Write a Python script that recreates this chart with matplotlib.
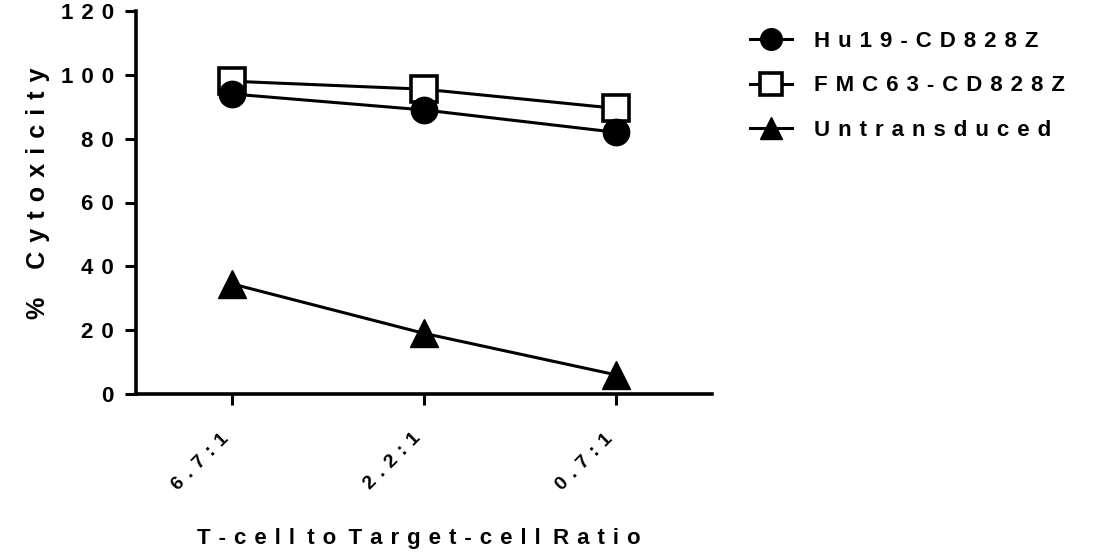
import matplotlib
matplotlib.use("Agg")
import matplotlib.pyplot as plt
import matplotlib.transforms as mtransforms

# Cytotoxicity at each effector:target ratio
ratios = ["6.7:1", "2.2:1", "0.7:1"]
hu19 = [94.0, 89.0, 82.0]
fmc63 = [98.0, 95.5, 89.5]
untransduced = [34.5, 19.0, 6.0]
yticks = [0, 20, 40, 60, 80, 100, 120]

SEP = " \u200a"
FS = 16


def spaced(s, word_gap="   "):
    # wide letter spacing, slightly wider gap between words
    return word_gap.join(SEP.join(w) for w in s.split(" "))


plt.rcParams["font.family"] = ["Liberation Sans", "DejaVu Sans"]
plt.rcParams["font.weight"] = "bold"

fig = plt.figure(figsize=(10.94, 5.52), dpi=100)
ax = fig.add_axes([136 / 1094, 1 - 394 / 552, 576 / 1094, 383 / 552])

x = range(len(ratios))
ax.plot(x, fmc63, color="black", lw=2.2, marker="s", markersize=19,
        markerfacecolor="white", markeredgecolor="black", markeredgewidth=2.6,
        label=spaced("FMC63-CD828Z"), zorder=3)
ax.plot(x, hu19, color="black", lw=2.2, marker="o", markersize=19,
        label=spaced("Hu19-CD828Z"), zorder=4)
ax.plot(x, untransduced, color="black", lw=2.2, marker="^", markersize=20,
        label=spaced("Untransduced"), zorder=3)

ax.set_xlim(-0.5, 2.5)
ax.set_ylim(0, 120)
ax.set_yticks(yticks)
ax.set_yticklabels([spaced(str(v)) for v in yticks])
ax.set_xticks(list(x))
ax.set_xticklabels([spaced(r) for r in ratios], rotation=45, ha="right", va="top")
# nudge the slanted ratio labels a little to the right
shift = mtransforms.ScaledTranslation(4 / 100, 0, fig.dpi_scale_trans)
for lbl in ax.get_xticklabels():
    lbl.set_transform(lbl.get_transform() + shift)

for side in ("top", "right"):
    ax.spines[side].set_visible(False)
for side in ("left", "bottom"):
    ax.spines[side].set_linewidth(2.6)
ax.tick_params(axis="y", length=8, width=2.2, pad=8, labelsize=FS)
ax.tick_params(axis="x", length=8, width=2.2, pad=18, labelsize=14)

ax.set_ylabel(spaced("% Cytoxicity", "    "), fontsize=18, fontweight="bold")
ax.yaxis.set_label_coords(-0.150, 0.525)
ax.set_xlabel(spaced("T-cell to Target-cell Ratio", "  "), fontsize=16, fontweight="bold")
ax.xaxis.set_label_coords(0.491, -0.35)

handles, labels = ax.get_legend_handles_labels()
order = [1, 0, 2]
leg = fig.legend([handles[i] for i in order], [labels[i] for i in order],
                 loc="upper left", bbox_to_anchor=(750 / 1094, 1 - 31 / 552),
                 frameon=False, fontsize=FS, handlelength=1.9, handletextpad=1.0,
                 labelspacing=1.05, borderaxespad=0, borderpad=0,
                 markerscale=0.82)

fig.savefig("out.png", dpi=100, facecolor="white")
